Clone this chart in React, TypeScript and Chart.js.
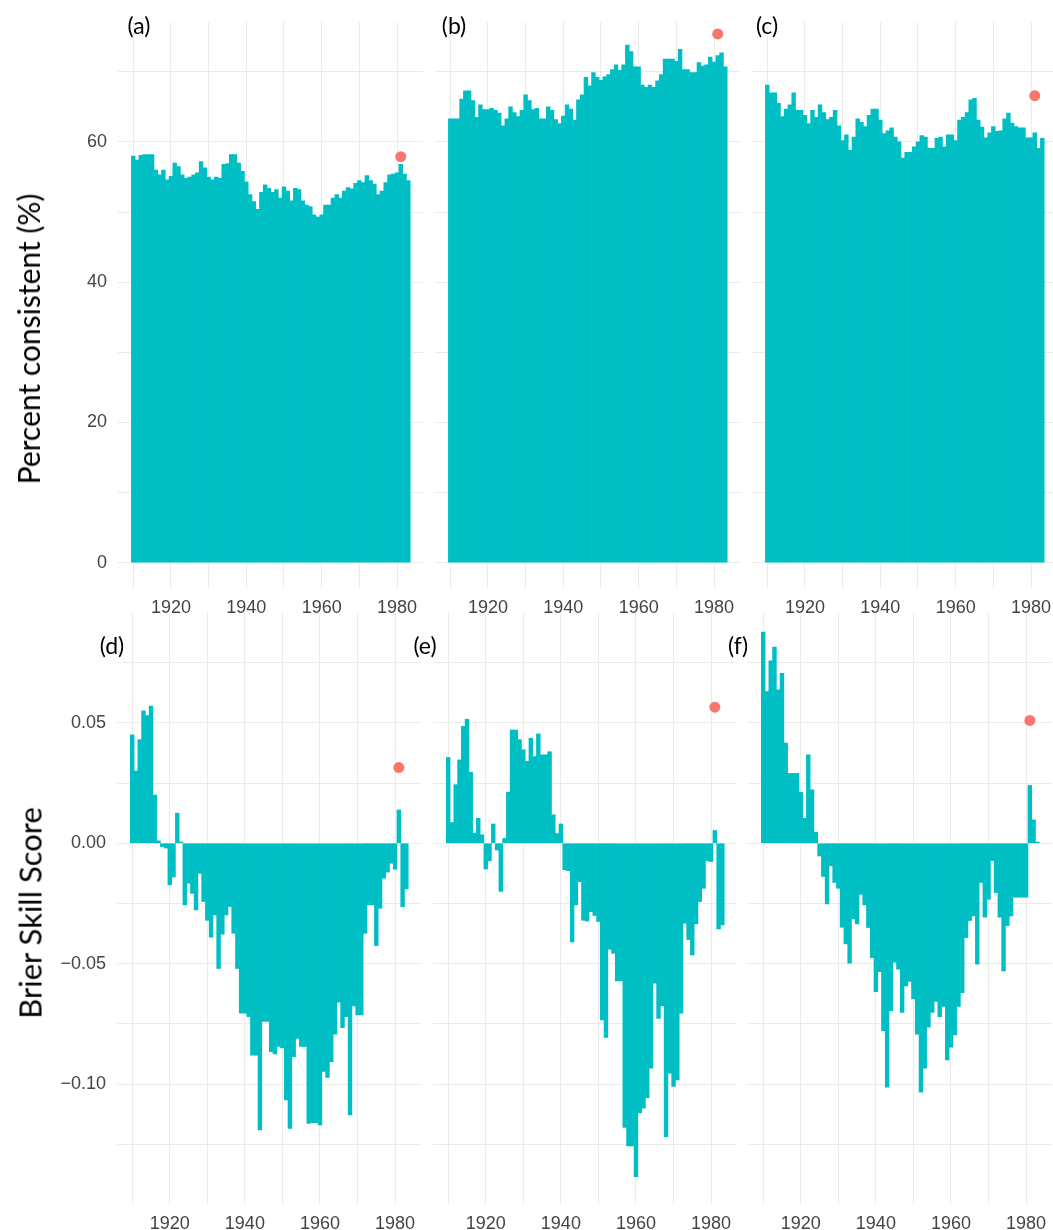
import React, { useEffect, useRef } from "react";
import { Chart, registerables } from "chart.js";

Chart.register(...registerables);

// ---------- data ----------
const years = [
  1910, 1911, 1912, 1913, 1914, 1915, 1916, 1917, 1918, 1919,
  1920, 1921, 1922, 1923, 1924, 1925, 1926, 1927, 1928, 1929,
  1930, 1931, 1932, 1933, 1934, 1935, 1936, 1937, 1938, 1939,
  1940, 1941, 1942, 1943, 1944, 1945, 1946, 1947, 1948, 1949,
  1950, 1951, 1952, 1953, 1954, 1955, 1956, 1957, 1958, 1959,
  1960, 1961, 1962, 1963, 1964, 1965, 1966, 1967, 1968, 1969,
  1970, 1971, 1972, 1973, 1974, 1975, 1976, 1977, 1978, 1979,
  1980, 1981, 1982, 1983,
];

const pctA = [
  58.0, 57.4, 58.1, 58.2, 58.2, 58.2, 56.0, 55.3, 56.0, 54.6,
  55.1, 57.0, 56.5, 55.3, 54.8, 55.0, 55.3, 55.6, 57.2, 56.3,
  55.0, 54.6, 55.0, 54.8, 56.8, 56.9, 58.2, 58.2, 57.0, 55.8,
  54.3, 52.5, 51.5, 50.4, 52.8, 53.9, 53.4, 52.8, 53.2, 52.0,
  53.6, 53.0, 51.6, 53.4, 53.2, 51.6, 51.0, 50.8, 49.6, 49.3,
  49.6, 51.0, 51.0, 52.0, 52.5, 52.0, 53.0, 53.5, 53.3, 54.1,
  54.5, 54.2, 55.2, 54.5, 54.0, 52.5, 53.0, 54.2, 55.3, 55.4,
  55.6, 56.8, 55.4, 54.5,
];

const pctB = [
  63.3, 63.3, 63.3, 66.1, 67.3, 67.3, 65.9, 63.5, 65.3, 64.6,
  64.6, 64.8, 64.5, 64.1, 62.3, 63.3, 65.0, 64.2, 63.6, 64.5,
  66.7, 65.9, 64.6, 64.8, 63.3, 63.3, 65.0, 64.5, 63.2, 62.6,
  63.7, 65.3, 64.7, 63.1, 66.0, 66.7, 69.2, 68.0, 69.9, 69.2,
  68.8, 69.3, 69.6, 70.3, 71.0, 70.2, 71.0, 73.8, 72.9, 70.7,
  70.7, 68.1, 67.8, 68.1, 67.8, 68.7, 69.6, 71.8, 71.8, 71.8,
  71.5, 73.2, 70.3, 70.3, 69.9, 69.9, 71.3, 70.8, 71.0, 72.1,
  71.4, 72.3, 72.7, 70.7,
];

const pctC = [
  68.1, 67.0, 67.0, 65.5, 63.6, 64.7, 65.3, 67.0, 64.5, 64.5,
  63.8, 62.6, 64.5, 63.5, 65.3, 64.2, 63.2, 63.5, 64.5, 62.3,
  60.2, 61.0, 58.8, 60.7, 63.3, 62.8, 62.2, 63.8, 64.7, 64.7,
  63.1, 61.2, 61.6, 62.0, 60.7, 60.0, 57.7, 58.5, 58.5, 59.3,
  60.0, 60.9, 60.7, 59.1, 59.1, 60.5, 60.7, 59.3, 61.0, 61.0,
  60.2, 63.1, 63.5, 64.2, 66.0, 66.2, 63.1, 62.1, 60.6, 61.3,
  62.2, 61.5, 61.6, 63.3, 64.1, 62.7, 62.2, 62.0, 62.0, 60.6,
  60.6, 61.3, 59.1, 60.5,
];

const bssD = [
  0.045, 0.030, 0.043, 0.055, 0.053, 0.057, 0.020, 0.001, -0.0014, -0.002,
  -0.0173, -0.014, 0.0125, 0.0005, -0.0256, -0.0166, -0.0208, -0.0277, -0.0125, -0.0242,
  -0.032, -0.039, -0.0298, -0.052, -0.0378, -0.0298, -0.0263, -0.0374, -0.052, -0.0706,
  -0.0706, -0.072, -0.088, -0.088, -0.119, -0.074, -0.074, -0.0865, -0.0875, -0.0844,
  -0.085, -0.1066, -0.1184, -0.0886, -0.081, -0.0844, -0.0844, -0.1163, -0.116, -0.116,
  -0.117, -0.0948, -0.0972, -0.0907, -0.0793, -0.066, -0.0766, -0.072, -0.1128, -0.0676,
  -0.0713, -0.0713, -0.0374, -0.0256, -0.0256, -0.0425, -0.027, -0.0145, -0.012, -0.0083,
  -0.0108, 0.0138, -0.0263, -0.019,
];

const bssE = [
  0.0356, 0.0086, 0.0243, 0.0346, 0.0485, 0.0515, 0.0295, 0.0042, 0.0104, 0.0035,
  -0.0107, -0.0073, 0.008, -0.0028, -0.020, 0.002, 0.0212, 0.047, 0.047, 0.043,
  0.0388, 0.034, 0.0436, 0.036, 0.0454, 0.0367, 0.0367, 0.038, 0.0118, 0.004,
  0.008, -0.011, -0.0114, -0.041, -0.0256, -0.016, -0.032, -0.0323, -0.0284, -0.030,
  -0.0325, -0.0734, -0.0806, -0.044, -0.0457, -0.0572, -0.0572, -0.118, -0.1257, -0.1257,
  -0.1384, -0.112, -0.110, -0.1056, -0.0934, -0.0581, -0.0727, -0.0674, -0.1218, -0.0955,
  -0.101, -0.0983, -0.0706, -0.0332, -0.040, -0.0464, -0.0335, -0.0242, -0.0187, -0.0073,
  -0.0076, 0.0053, -0.0356, -0.0339,
];

const bssF = [
  0.0877, 0.063, 0.0757, 0.0814, 0.0637, 0.0706, 0.0416, 0.029, 0.029, 0.029,
  0.0211, 0.0104, 0.0367, 0.0222, 0.0046, -0.0053, -0.0138, -0.0252, -0.0094, -0.0163,
  -0.0187, -0.0349, -0.0418, -0.0498, -0.0314, -0.0335, -0.0212, -0.0256, -0.035, -0.0475,
  -0.0616, -0.0533, -0.0778, -0.1013, -0.0695, -0.0494, -0.0523, -0.0702, -0.0592, -0.0574,
  -0.0646, -0.0793, -0.1034, -0.0934, -0.0764, -0.0702, -0.0657, -0.072, -0.0678, -0.090,
  -0.0847, -0.0796, -0.0678, -0.062, -0.0392, -0.0321, -0.0302, -0.0502, -0.0163, -0.0307,
  -0.0233, -0.0072, -0.0205, -0.0307, -0.053, -0.0342, -0.0302, -0.0224, -0.0224, -0.0224,
  -0.0224, 0.024, 0.0097, 0.0005,
];

const dotYear = 1981;
const pctDots = [57.9, 75.4, 66.6];
const bssDots = [0.0314, 0.0565, 0.051];

const xGridYears = [1910, 1920, 1930, 1940, 1950, 1960, 1970, 1980];
const xTickLabels = [1920, 1940, 1960, 1980];
const pctGrid = [0, 10, 20, 30, 40, 50, 60, 70];
const pctTickLabels = [0, 20, 40, 60];
const bssGrid = [-0.125, -0.1, -0.075, -0.05, -0.025, 0, 0.025, 0.05, 0.075];
const bssTickLabels = [-0.1, -0.05, 0, 0.05];

const panelLetters = ["(a)", "(b)", "(c)", "(d)", "(e)", "(f)"];

// ---------- styling ----------
const BAR = "#00BFC4";
const DOT = "#F8766D";
const GRID = "#ebebeb";
const TICK_COLOR = "#444444";
const TICK_FONT = { family: "'Liberation Sans', Arial, sans-serif", size: 18 };
const X_MIN = 1905.95;
const X_MAX = 1986.9;

const near = (a: number, b: number) => Math.abs(a - b) < 1e-6;

type PanelProps = {
  left: number;
  top: number;
  plotW: number;
  plotH: number;
  axisW: number;
  axisH: number;
  values: number[];
  dot: number;
  yMin: number;
  yMax: number;
  yGrid: number[];
  yLabels: number[];
  fmt: (v: number) => string;
  showY: boolean;
};

function Panel(p: PanelProps) {
  const ref = useRef<HTMLCanvasElement>(null);
  useEffect(() => {
    const chart = new Chart(ref.current as HTMLCanvasElement, {
      type: "bar",
      data: {
        datasets: [
          {
            type: "scatter",
            data: [{ x: dotYear, y: p.dot }],
            backgroundColor: DOT,
            borderColor: DOT,
            borderWidth: 0,
            pointRadius: 5.5,
            pointHoverRadius: 5.5,
            clip: false,
            order: 0,
          } as any,
          {
            type: "bar",
            data: years.map((yr, i) => ({ x: yr, y: p.values[i] })),
            backgroundColor: BAR,
            borderWidth: 0,
            barPercentage: 1,
            categoryPercentage: 1,
            order: 1,
          } as any,
        ],
      },
      options: {
        animation: false,
        responsive: false,
        maintainAspectRatio: false,
        events: [],
        layout: { padding: 0, autoPadding: false },
        plugins: {
          legend: { display: false },
          tooltip: { enabled: false },
          title: { display: false },
        },
        scales: {
          x: {
            type: "linear",
            min: X_MIN,
            max: X_MAX,
            offset: false,
            afterBuildTicks: (s: any) => {
              s.ticks = xGridYears.map((v) => ({ value: v }));
            },
            afterFit: (s: any) => {
              s.height = p.axisH;
              s.paddingLeft = 0;
              s.paddingRight = 0;
              s.paddingTop = 0;
              s.paddingBottom = 0;
            },
            ticks: {
              autoSkip: false,
              maxRotation: 0,
              minRotation: 0,
              padding: 9,
              color: TICK_COLOR,
              font: TICK_FONT,
              callback: (v: any) => (xTickLabels.includes(Number(v)) ? String(v) : ""),
            },
            grid: { color: GRID, lineWidth: 1, drawTicks: false, offset: false },
            border: { display: false },
          },
          y: {
            type: "linear",
            min: p.yMin,
            max: p.yMax,
            afterBuildTicks: (s: any) => {
              s.ticks = p.yGrid.map((v) => ({ value: v }));
            },
            afterFit: (s: any) => {
              s.width = p.axisW;
              s.paddingLeft = 0;
              s.paddingRight = 0;
              s.paddingTop = 0;
              s.paddingBottom = 0;
            },
            ticks: {
              display: p.showY,
              autoSkip: false,
              padding: 11,
              color: TICK_COLOR,
              font: TICK_FONT,
              callback: (v: any) =>
                p.yLabels.some((l) => near(l, Number(v))) ? p.fmt(Number(v)) : "",
            },
            grid: { color: GRID, lineWidth: 1, drawTicks: false },
            border: { display: false },
          },
        },
      } as any,
    });
    return () => chart.destroy();
  }, []);

  return (
    <canvas
      ref={ref}
      width={p.axisW + p.plotW}
      height={p.plotH + p.axisH}
      style={{
        position: "absolute",
        left: p.left,
        top: p.top,
        width: p.axisW + p.plotW,
        height: p.plotH + p.axisH,
      }}
    />
  );
}

const fmtPct = (v: number) => String(Math.round(v));
const fmtBss = (v: number) => {
  const s = Math.abs(v).toFixed(2);
  return v < -1e-9 ? "\u2212" + s : s;
};

const labelStyle = (cx: number, cy: number): React.CSSProperties => ({
  position: "absolute",
  left: cx,
  top: cy,
  transform: "translate(-50%, -50%)",
  fontFamily: "Lato, 'Open Sans', sans-serif",
  fontSize: 23,
  color: "#000",
  whiteSpace: "nowrap",
  lineHeight: 1,
});

const titleStyle = (cx: number, cy: number, size: number): React.CSSProperties => ({
  position: "absolute",
  left: cx,
  top: cy,
  transform: "translate(-50%, -50%) rotate(-90deg)",
  fontFamily: "Lato, 'Open Sans', sans-serif",
  fontSize: size,
  color: "#000",
  whiteSpace: "nowrap",
  lineHeight: 1,
});

export default function App() {
  const topY = 22;
  const topH = 566;
  const botY = 613;
  const botH = 591;
  const pctMin = -3.6;
  const pctMax = 77.1;
  const bssMin = -0.1498;
  const bssMax = 0.0956;

  const pctSets = [pctA, pctB, pctC];
  const bssSets = [bssD, bssE, bssF];
  const topLefts = [0, 435, 752];
  const botLefts = [0, 433, 748];
  const labelPos = [
    [139, 25],
    [454, 25],
    [767, 25],
    [112, 645],
    [425, 645],
    [738, 645],
  ];

  return (
    <div
      style={{
        position: "absolute",
        left: 0,
        top: 0,
        width: 1053,
        height: 1230,
        overflow: "hidden",
        background: "#fff",
      }}
    >
      {bssSets.map((vals, i) => (
        <Panel
          key={"b" + i}
          left={botLefts[i]}
          top={botY}
          plotW={304}
          plotH={botH}
          axisW={i === 0 ? 117 : 0}
          axisH={26}
          values={vals}
          dot={bssDots[i]}
          yMin={bssMin}
          yMax={bssMax}
          yGrid={bssGrid}
          yLabels={bssTickLabels}
          fmt={fmtBss}
          showY={i === 0}
        />
      ))}
      {pctSets.map((vals, i) => (
        <Panel
          key={"t" + i}
          left={topLefts[i]}
          top={topY}
          plotW={305}
          plotH={topH}
          axisW={i === 0 ? 118 : 0}
          axisH={30}
          values={vals}
          dot={pctDots[i]}
          yMin={pctMin}
          yMax={pctMax}
          yGrid={pctGrid}
          yLabels={pctTickLabels}
          fmt={fmtPct}
          showY={i === 0}
        />
      ))}
      {panelLetters.map((t, i) => (
        <div key={t} style={labelStyle(labelPos[i][0], labelPos[i][1])}>
          {t}
        </div>
      ))}
      <div style={titleStyle(28, 339, 30)}>Percent consistent (%)</div>
      <div style={titleStyle(30, 913, 31)}>Brier Skill Score</div>
    </div>
  );
}
